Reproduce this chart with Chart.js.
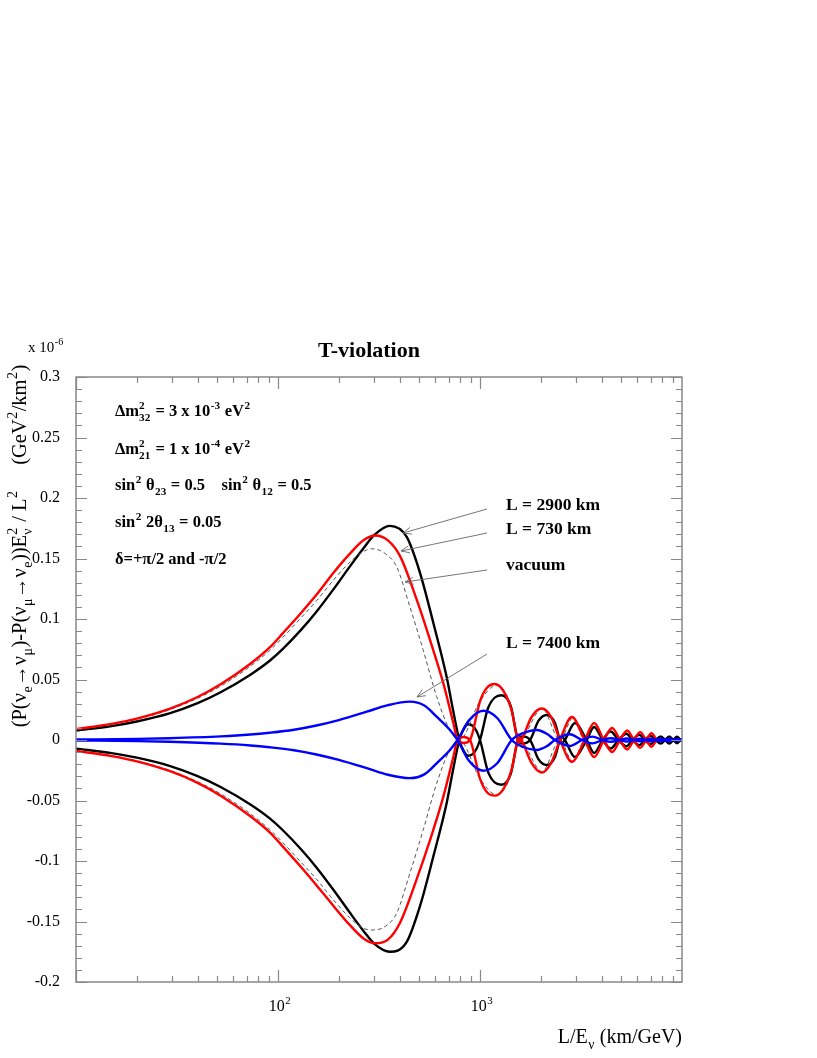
<!DOCTYPE html>
<html>
<head>
<meta charset="utf-8">
<script src="https://cdn.jsdelivr.net/npm/chart.js@4/dist/chart.umd.min.js"></script>
<style>
  html, body { margin: 0; padding: 0; background: #fff; }
  canvas { display: block; }
</style>
</head>
<body>
<canvas id="chart" width="817" height="1058" style="width:817px;height:1058px"></canvas>
<script>
// L/E (km/GeV) grids and T-violation values (x 10^-6 GeV^2/km^2)
const blackX = [10, 15, 20, 29, 40, 52, 73, 91, 106, 130, 155, 190, 227, 265, 300, 358, 433, 505, 588, 684,
    733, 790, 830, 873, 940, 1000, 1100, 1279, 1420, 1541, 1620, 1770, 1950, 2140, 2350, 2488, 2560, 2630, 2951, 3373,
    3670, 4050, 4430, 4850, 5300, 5700, 6150, 6550, 7000, 7400, 7850, 8250, 8650, 9050, 9450, 9850, 10000];
const blackUp = [0.0078, 0.0115, 0.0153, 0.022, 0.0305, 0.0395, 0.054, 0.0655, 0.0755, 0.091, 0.106, 0.1255, 0.1435, 0.1585, 0.1695, 0.177, 0.168, 0.138, 0.0965, 0.052,
    0.026, 0, -0.009, -0.013, -0.010, 0, 0.027, 0.037, 0.028, 0, -0.003, 0, 0.016, 0.0207, 0.014, 0, -0.002, 0, 0.014, 0,
    -0.0107, 0, 0.0070, 0, -0.0052, 0, 0.0042, 0, -0.0035, 0, 0.003, 0, -0.003, 0, 0.0027, 0, -0.001];
const blackDown = [-0.0071, -0.0108, -0.0146, -0.0213, -0.0298, -0.0388, -0.0533, -0.0648, -0.0748, -0.0903, -0.1053, -0.1248, -0.1428, -0.1578, -0.1685, -0.175, -0.167, -0.137, -0.096, -0.052,
    -0.026, 0, 0.009, 0.013, 0.010, 0, -0.027, -0.037, -0.028, 0, 0.003, 0, -0.016, -0.0207, -0.014, 0, 0.002, 0, -0.014, 0,
    0.0107, 0, -0.0070, 0, 0.0052, 0, -0.0042, 0, 0.0035, 0, -0.003, 0, 0.003, 0, -0.0027, 0, 0.001];

const redX = [10, 15, 20, 29, 40, 52, 73, 91, 106, 130, 155, 190, 227, 265, 302, 350, 402, 486, 565, 658,
    738, 774, 830, 892, 1000, 1080, 1186, 1300, 1430, 1541, 1575, 1607, 1800, 2020, 2250, 2488, 2851, 3300, 3673, 4100,
    4509, 4930, 5354, 5780, 6211, 6640, 7063, 7480];
const redUp = [0.0090, 0.0133, 0.0177, 0.0257, 0.0355, 0.046, 0.063, 0.0765, 0.0885, 0.105, 0.120, 0.139, 0.154, 0.165, 0.169, 0.165, 0.152, 0.116, 0.083, 0.047,
    0.014, 0, -0.0025, 0, 0.032, 0.043, 0.0463, 0.041, 0.025, 0, -0.002, 0, 0.019, 0.026, 0.019, 0, -0.018, 0, 0.0141, 0,
    -0.0099, 0, 0.0079, 0, -0.0065, 0, 0.0056, 0];
const redDown = [-0.0090, -0.0133, -0.0176, -0.0256, -0.0354, -0.046, -0.063, -0.0763, -0.0883, -0.105, -0.120, -0.138, -0.153, -0.164, -0.168, -0.165, -0.151, -0.115, -0.083, -0.047,
    -0.014, 0, 0.0025, 0, -0.032, -0.043, -0.046, -0.041, -0.025, 0, 0.002, 0, -0.019, -0.027, -0.019, 0, 0.019, 0, -0.0141, 0,
    0.0099, 0, -0.0079, 0, 0.0065, 0, -0.0056, 0];

const vacX = [10, 15, 20, 29, 40, 52, 73, 91, 106, 130, 155, 190, 227, 260, 291, 340, 387, 450, 524, 610,
    710, 790, 1000, 1200, 1400, 1560, 2030, 2488, 2880, 3300, 3690, 4110, 4520, 4940, 5360, 5780, 6200, 6630, 7050, 7460];
const vacUp = [0.0087, 0.0130, 0.0172, 0.025, 0.0345, 0.0445, 0.061, 0.074, 0.085, 0.101, 0.115, 0.133, 0.147, 0.155, 0.158, 0.154, 0.143, 0.110, 0.074, 0.036,
    0.008, 0, 0.032, 0.045, 0.032, 0, 0.026, 0, 0.018, 0, 0.014, 0, 0.0099, 0, 0.0079, 0, 0.0065, 0, 0.0056, 0];
const vacDown = [-0.0087, -0.0130, -0.0172, -0.025, -0.0345, -0.0445, -0.061, -0.074, -0.085, -0.101, -0.115, -0.133, -0.147, -0.155, -0.157, -0.154, -0.143, -0.110, -0.074, -0.036,
    -0.008, 0, -0.032, -0.045, -0.032, 0, -0.026, 0, -0.018, 0, -0.014, 0, -0.0099, 0, -0.0079, 0, -0.0065, 0, -0.0056, 0];

const blueX = [10, 20, 29, 52, 73, 91, 120, 155, 200, 275, 350, 450, 530, 610, 710, 774, 880, 1038, 1220, 1436,
    1650, 1911, 2150, 2350, 2780, 3200, 3600, 4050, 4450, 4900, 5350, 5780, 6200, 6620, 7050, 7450, 7850, 8270, 8670, 9090,
    9500, 10000];
const blueUp = [0.0004, 0.0009, 0.0015, 0.003, 0.0045, 0.006, 0.0085, 0.012, 0.0165, 0.0234, 0.0288, 0.0317, 0.0285, 0.0193, 0.0083, 0, -0.017, -0.0254, -0.019, 0,
    0.006, 0.0083, 0.005, 0, -0.0049, 0, 0.0028, 0, -0.0015, 0, 0.0012, 0, -0.001, 0, 0.001, 0, -0.001, 0, 0.001, 0,
    -0.0009, 0];
const blueDown = [-0.0004, -0.0009, -0.0015, -0.003, -0.0045, -0.006, -0.0085, -0.012, -0.0165, -0.0233, -0.0287, -0.0315, -0.0284, -0.0193, -0.0083, 0, 0.016, 0.0242, 0.018, 0,
    -0.006, -0.0083, -0.005, 0, 0.0047, 0, -0.0028, 0, 0.0015, 0, -0.0012, 0, 0.001, 0, -0.001, 0, 0.001, 0, -0.001, 0,
    0.0009, 0];

const yTickValues = [0.3, 0.25, 0.2, 0.15, 0.1, 0.05, 0, -0.05, -0.1, -0.15, -0.2];
const xLabelValues = [100, 1000];
const xLabelExps = ['2', '3'];

const SERIF = '"Liberation Serif", "Times New Roman", serif';

function pts(xs, ys) {
    return xs.map((x, i) => ({ x: x, y: ys[i] }));
}

function curve(xs, ys, color, width, order, dash) {
    return {
        data: pts(xs, ys),
        borderColor: color,
        borderWidth: width,
        borderDash: dash || [],
        pointRadius: 0,
        fill: false,
        cubicInterpolationMode: 'monotone',
        order: order
    };
}

// draw text made of pieces: [text] normal, [text,'sup'], [text,'sub'], [sup,'ss',sub] stacked
function rich(ctx, parts, x, y, size, weight, align) {
    const small = size * 0.68;
    const font = s => weight + ' ' + s + 'px ' + SERIF;
    let widths = parts.map(p => {
        if (p[1] === 'ss') {
            ctx.font = font(small);
            return Math.max(ctx.measureText(p[0]).width, ctx.measureText(p[2]).width) + 1;
        }
        ctx.font = font(p[1] ? small : size);
        return ctx.measureText(p[0]).width + (p[1] ? 1 : 0);
    });
    let total = widths.reduce((a, b) => a + b, 0);
    let cx = align === 'center' ? x - total / 2 : align === 'right' ? x - total : x;
    ctx.textAlign = 'left';
    ctx.textBaseline = 'alphabetic';
    parts.forEach((p, i) => {
        if (p[1] === 'ss') {
            ctx.font = font(small);
            ctx.fillText(p[0], cx, y - size * 0.45);
            ctx.fillText(p[2], cx, y + size * 0.3);
        } else if (p[1] === 'sup') {
            ctx.font = font(small);
            ctx.fillText(p[0], cx + 0.5, y - size * 0.45);
        } else if (p[1] === 'sub') {
            ctx.font = font(small);
            ctx.fillText(p[0], cx + 0.5, y + size * 0.3);
        } else {
            ctx.font = font(size);
            ctx.fillText(p[0], cx, y);
        }
        cx += widths[i];
    });
}

function arrow(ctx, x1, y1, x2, y2) {
    ctx.beginPath();
    ctx.moveTo(x1, y1);
    ctx.lineTo(x2, y2);
    const ang = Math.atan2(y2 - y1, x2 - x1);
    const h = 9;
    ctx.moveTo(x2 - h * Math.cos(ang - 0.4), y2 - h * Math.sin(ang - 0.4));
    ctx.lineTo(x2, y2);
    ctx.lineTo(x2 - h * Math.cos(ang + 0.4), y2 - h * Math.sin(ang + 0.4));
    ctx.stroke();
}

const decor = {
    id: 'decor',
    beforeDraw(chart) {
        const ctx = chart.ctx;
        ctx.save();
        ctx.fillStyle = '#fff';
        ctx.fillRect(0, 0, chart.width, chart.height);
        ctx.restore();
    },
    afterDatasetsDraw(chart) {
        const ctx = chart.ctx;
        const a = chart.chartArea;
        const xs = chart.scales.x, ys = chart.scales.y;
        ctx.save();

        // frame and ticks
        ctx.strokeStyle = '#888';
        ctx.lineWidth = 1.5;
        ctx.strokeRect(a.left, a.top, a.right - a.left, a.bottom - a.top);
        ctx.lineWidth = 1.2;
        ctx.beginPath();
        for (let i = -20; i <= 30; i++) {
            const py = Math.round(ys.getPixelForValue(i / 100)) + 0.5;
            const len = i % 5 === 0 ? 11 : 6;
            ctx.moveTo(a.left, py); ctx.lineTo(a.left + len, py);
            ctx.moveTo(a.right, py); ctx.lineTo(a.right - len, py);
        }
        for (let d = 1; d <= 3; d++) {
            for (let m = 1; m <= 9; m++) {
                const px = Math.round(xs.getPixelForValue(m * Math.pow(10, d))) + 0.5;
                const len = m === 1 ? 12 : 6;
                ctx.moveTo(px, a.bottom); ctx.lineTo(px, a.bottom - len);
                ctx.moveTo(px, a.top); ctx.lineTo(px, a.top + len);
            }
        }
        ctx.stroke();

        // tick labels
        ctx.fillStyle = '#000';
        ctx.font = '16px ' + SERIF;
        ctx.textAlign = 'right';
        ctx.textBaseline = 'middle';
        yTickValues.forEach(v => {
            ctx.fillText(String(parseFloat(v.toFixed(2))), a.left - 16, ys.getPixelForValue(v));
        });
        xLabelValues.forEach((v, i) => {
            rich(ctx, [['10'], [xLabelExps[i], 'sup']], xs.getPixelForValue(v) + 2, a.bottom + 29, 16, 'normal', 'center');
        });

        // axis titles
        rich(ctx, [['L/E'], ['\u03bd', 'sub'], [' (km/GeV)']], a.right, 1043, 20, 'normal', 'right');
        rich(ctx, [['x 10'], ['-6', 'sup']], 28, 352, 15, 'normal', 'left');
        ctx.save();
        ctx.translate(26, 546);
        ctx.rotate(-Math.PI / 2);
        rich(ctx, [['(P(\u03bd'], ['e', 'sub'], ['\u2192\u03bd'], ['\u03bc', 'sub'], [')-P(\u03bd'], ['\u03bc', 'sub'],
            ['\u2192\u03bd'], ['e', 'sub'], ['))E'], ['2', 'ss', '\u03bd'], [' / L'], ['2', 'sup'],
            ['     (GeV'], ['2', 'sup'], ['/km'], ['2', 'sup'], [')']], 0, 0, 20.5, 'normal', 'center');
        ctx.restore();

        // title
        ctx.font = 'bold 22px ' + SERIF;
        ctx.textAlign = 'center';
        ctx.textBaseline = 'alphabetic';
        ctx.fillText('T-violation', 369, 357);

        // parameter block
        const bx = 115, fs = 16.5;
        rich(ctx, [['\u0394m'], ['2', 'ss', '32'], [' = 3 x 10'], ['-3', 'sup'], [' eV'], ['2', 'sup']], bx, 416, fs, 'bold', 'left');
        rich(ctx, [['\u0394m'], ['2', 'ss', '21'], [' = 1 x 10'], ['-4', 'sup'], [' eV'], ['2', 'sup']], bx, 454, fs, 'bold', 'left');
        rich(ctx, [['sin'], ['2', 'sup'], [' \u03b8'], ['23', 'sub'], [' = 0.5    sin'], ['2', 'sup'], [' \u03b8'], ['12', 'sub'], [' = 0.5']], bx, 490, fs, 'bold', 'left');
        rich(ctx, [['sin'], ['2', 'sup'], [' 2\u03b8'], ['13', 'sub'], [' = 0.05']], bx, 527, fs, 'bold', 'left');
        rich(ctx, [['\u03b4=+\u03c0/2 and -\u03c0/2']], bx, 564, fs, 'bold', 'left');

        // curve labels and arrows
        ctx.font = 'bold 17.5px ' + SERIF;
        ctx.textAlign = 'left';
        ctx.fillText('L = 2900 km', 506, 510);
        ctx.fillText('L = 730 km', 506, 534);
        ctx.fillText('vacuum', 506, 570);
        ctx.fillText('L = 7400 km', 506, 648);
        ctx.strokeStyle = '#666';
        ctx.lineWidth = 0.9;
        arrow(ctx, 487, 509, 403, 533);
        arrow(ctx, 487, 533, 401, 551);
        arrow(ctx, 487, 570, 405, 582);
        arrow(ctx, 487, 654, 417, 697);

        ctx.restore();
    }
};

new Chart(document.getElementById('chart').getContext('2d'), {
    type: 'line',
    data: {
        datasets: [
            curve(blueX, blueUp, '#0000ff', 2.4, 0),
            curve(blueX, blueDown, '#0000ff', 2.4, 0),
            curve(redX, redUp, '#ff0000', 2.4, 1),
            curve(redX, redDown, '#ff0000', 2.4, 1),
            curve(vacX, vacUp, '#555', 1, 2, [4, 3]),
            curve(vacX, vacDown, '#555', 1, 2, [4, 3]),
            curve(blackX, blackUp, '#000', 2.4, 3),
            curve(blackX, blackDown, '#000', 2.4, 3)
        ]
    },
    options: {
        responsive: false,
        devicePixelRatio: 1,
        animation: false,
        layout: { padding: { left: 76, right: 135, top: 377, bottom: 76 } },
        plugins: { legend: { display: false }, tooltip: { enabled: false } },
        scales: {
            x: { type: 'logarithmic', min: 10, max: 10000, display: false },
            y: { type: 'linear', min: -0.2, max: 0.3, display: false }
        }
    },
    plugins: [decor]
});
</script>
</body>
</html>
